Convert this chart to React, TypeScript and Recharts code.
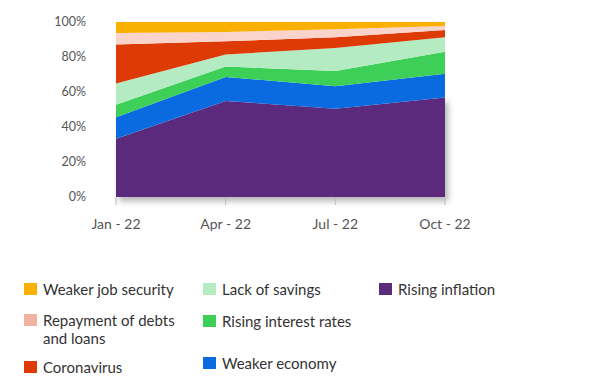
import React from 'react';
import { AreaChart, Area, XAxis, YAxis } from 'recharts';

// quarters on the x axis
const quarters = ['Jan - 22', 'Apr - 22', 'Jul - 22', 'Oct - 22'];

// share of respondents (%) per concern
const risingInflation = [33.3, 54.9, 50.4, 56.8];
const weakerEconomy = [12.3, 13.7, 12.9, 13.7];
const risingInterestRates = [7.1, 6.0, 8.7, 12.5];
const lackOfSavings = [12.1, 6.8, 13.2, 8.3];
const coronavirus = [22.3, 7.6, 6.1, 4.2];
const repaymentOfDebts = [6.6, 5.3, 4.5, 2.2];
const weakerJobSecurity = [6.3, 5.7, 4.2, 2.3];

const yTicks = [0, 20, 40, 60, 80, 100];

// stacking order, bottom first
const series = [
  { key: 'inflation', name: 'Rising inflation', values: risingInflation, color: '#5B2A7C' },
  { key: 'economy', name: 'Weaker economy', values: weakerEconomy, color: '#0A6BE0' },
  { key: 'interest', name: 'Rising interest rates', values: risingInterestRates, color: '#3DCF57' },
  { key: 'savings', name: 'Lack of savings', values: lackOfSavings, color: '#B4EBC3' },
  { key: 'corona', name: 'Coronavirus', values: coronavirus, color: '#DE3A06' },
  { key: 'repayment', name: 'Repayment of debts and loans', values: repaymentOfDebts, color: '#FAD3CB' },
  { key: 'job', name: 'Weaker job security', values: weakerJobSecurity, color: '#F9B000' },
];

const data = quarters.map((q, i) => {
  const row: { [k: string]: string | number } = { quarter: q };
  series.forEach(s => {
    row[s.key] = s.values[i];
  });
  return row;
});

// legend columns as laid out in the picture
const legendColumns = [
  [
    { label: 'Weaker job security', color: '#F9B000' },
    { label: 'Repayment of debts\nand loans', color: '#F2B3A3' },
    { label: 'Coronavirus', color: '#DE3A06' },
  ],
  [
    { label: 'Lack of savings', color: '#B4EBC3' },
    { label: 'Rising interest rates', color: '#3DCF57' },
    { label: 'Weaker economy', color: '#0A6BE0' },
  ],
  [{ label: 'Rising inflation', color: '#5B2A7C' }],
];

const colLeft = [24, 203, 379];
const rowTop = [[280, 311, 358], [280, 312, 354], [280]];

const font = 'Lato, "Noto Sans", sans-serif';

export default function App() {
  return (
    <div style={{ position: 'absolute', left: 0, top: 0, width: 592, height: 383, background: '#fff', fontFamily: font }}>
      <AreaChart width={592} height={260} data={data} margin={{ top: 22, right: 147, bottom: 0, left: 0 }}>
        <defs>
          <filter id="plotShadow" x="-10%" y="-10%" width="130%" height="130%">
            <feDropShadow dx="3" dy="4" stdDeviation="3" floodColor="#000" floodOpacity="0.3" />
          </filter>
        </defs>
        <XAxis
          dataKey="quarter"
          axisLine={false}
          tickLine={{ stroke: '#bbb' }}
          tickSize={8}
          tickMargin={14}
          height={63}
          tick={{ fill: '#555', fontSize: 14, fontFamily: font }}
          interval={0}
        />
        <YAxis
          type="number"
          domain={[0, 100]}
          ticks={yTicks}
          tickFormatter={v => `${v}%`}
          axisLine={false}
          tickLine={false}
          tickMargin={24}
          width={116}
          tick={{ fill: '#555', fontSize: 12.5, fontFamily: font }}
        />
        {series.map((s, i) => (
          <Area
            key={s.key}
            dataKey={s.key}
            name={s.name}
            stackId="a"
            type="linear"
            stroke="none"
            fill={s.color}
            fillOpacity={1}
            isAnimationActive={false}
            filter={i === 0 ? 'url(#plotShadow)' : undefined}
          />
        ))}
      </AreaChart>
      {legendColumns.map((col, c) =>
        col.map((item, r) => (
          <div
            key={`${c}-${r}`}
            style={{ position: 'absolute', left: colLeft[c], top: rowTop[c][r], display: 'flex', alignItems: 'flex-start' }}
          >
            <div style={{ width: 13, height: 12, background: item.color, marginTop: 3, marginRight: 6 }} />
            <div style={{ fontSize: 15, color: '#333', lineHeight: '18px', whiteSpace: 'pre' }}>{item.label}</div>
          </div>
        ))
      )}
    </div>
  );
}
